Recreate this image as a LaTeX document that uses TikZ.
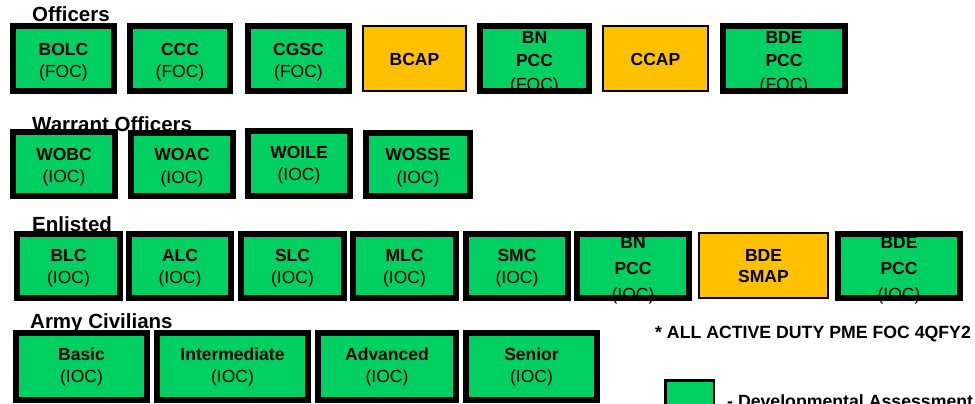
\documentclass[tikz,border=0pt]{standalone}
\usepackage{fontspec}
\setmainfont{Liberation Sans}
\definecolor{pgreen}{RGB}{0,208,98}
\definecolor{porange}{RGB}{255,192,0}
\tikzset{
  gfill/.style={fill=pgreen},
  gline/.style={draw=black,line width=6pt},
  ofill/.style={fill=porange},
  oline/.style={draw=black,line width=2pt},
  btxt/.style={inner sep=0pt,align=center,text=black,font=\fontsize{17.5}{22.5}\selectfont},
  lbl/.style={inner sep=0pt,anchor=base west,font=\fontsize{20.5}{24}\selectfont\bfseries},
  note/.style={inner sep=0pt,anchor=base west,font=\fontsize{17.7}{21}\selectfont\bfseries}
}
\newcommand\greenbox[7]{%
  \fill[gfill] ({#2+3},{#3+3}) rectangle ({#4-3},{#5-3});
  \node[btxt] (#1) at ({(#2+#4)/2},{(#3+#5)/2+#6}) {#7};
  \draw[gline] ({#2+3},{#3+3}) rectangle ({#4-3},{#5-3});
}
\newcommand\orangebox[7]{%
  \fill[ofill] ({#2+1},{#3+1}) rectangle ({#4-1},{#5-1});
  \node[btxt] (#1) at ({(#2+#4)/2},{(#3+#5)/2+#6}) {#7};
  \draw[oline] ({#2+1},{#3+1}) rectangle ({#4-1},{#5-1});
}
\begin{document}
\begin{tikzpicture}[x=1pt,y=-1pt]
\useasboundingbox (0,0) rectangle (975,404);
\clip (0,0) rectangle (975,404);
% row labels
\node[lbl] (lofficers) at (32,22) {Officers};
\node[lbl] (lwarrant) at (32,131) {Warrant Officers};
\node[lbl] (lenlisted) at (32,231) {Enlisted};
\node[lbl] (lcivilians) at (30,328) {Army Civilians};
% Officers
\greenbox{bolc}{10}{23}{117}{94}{3.5}{{\bfseries BOLC}\\(FOC)}
\greenbox{ccc}{127}{23}{233}{94}{3.5}{{\bfseries CCC}\\(FOC)}
\greenbox{cgsc}{245}{23}{352}{94}{3.5}{{\bfseries CGSC}\\(FOC)}
\orangebox{bcap}{362}{25}{467}{92}{0.5}{\bfseries BCAP}
\greenbox{bnpcc}{477}{23}{592}{94}{3.8}{{\bfseries BN}\\[1pt]{\bfseries PCC}\\[1pt](FOC)}
\orangebox{ccap}{602}{25}{709}{92}{0.5}{\bfseries CCAP}
\greenbox{bdepcc}{720}{23}{848}{94}{3.8}{{\bfseries BDE}\\[1pt]{\bfseries PCC}\\[1pt](FOC)}
% Warrant Officers
\greenbox{wobc}{10}{129}{118}{199}{3}{{\bfseries WOBC}\\(IOC)}
\greenbox{woac}{128}{130}{236}{199}{3}{{\bfseries WOAC}\\(IOC)}
\greenbox{woile}{245}{128}{353}{199}{1.5}{{\bfseries WOILE}\\(IOC)}
\greenbox{wosse}{363}{130}{473}{199}{3}{{\bfseries WOSSE}\\(IOC)}
% Enlisted
\greenbox{blc}{14}{231}{123}{301}{2}{{\bfseries BLC}\\(IOC)}
\greenbox{alc}{126}{231}{234}{301}{2}{{\bfseries ALC}\\(IOC)}
\greenbox{slc}{238}{231}{347}{301}{2}{{\bfseries SLC}\\(IOC)}
\greenbox{mlc}{350}{231}{459}{301}{2}{{\bfseries MLC}\\(IOC)}
\greenbox{smc}{463}{231}{571}{301}{2}{{\bfseries SMC}\\(IOC)}
\greenbox{ebnpcc}{574}{231}{692}{301}{4.3}{{\bfseries BN}\\[3.2pt]{\bfseries PCC}\\[3.2pt](IOC)}
\orangebox{bdesmap}{698}{232}{829}{299}{1}{{\bfseries BDE}\\[-1.5pt]{\bfseries SMAP}}
\greenbox{ebdepcc}{835}{231}{963}{301}{4.3}{{\bfseries BDE}\\[3.2pt]{\bfseries PCC}\\[3.2pt](IOC)}
% Army Civilians
\greenbox{basic}{13}{330}{150}{403}{0.5}{{\bfseries Basic}\\(IOC)}
\greenbox{inter}{154}{330}{311}{403}{0.5}{{\bfseries Intermediate}\\(IOC)}
\greenbox{adv}{315}{330}{459}{403}{0.5}{{\bfseries Advanced}\\(IOC)}
\greenbox{senior}{463}{330}{600}{403}{0.5}{{\bfseries Senior}\\(IOC)}
% note and legend
\node[note] (footnote) at (655,338) {* ALL ACTIVE DUTY PME FOC 4QFY2};
\path[gfill,draw=black,line width=2.5pt] (665.5,380.5) rectangle (714,412);
\node[note] (legendtext) at (727,407.5) {- Developmental Assessment};
\end{tikzpicture}
\end{document}
